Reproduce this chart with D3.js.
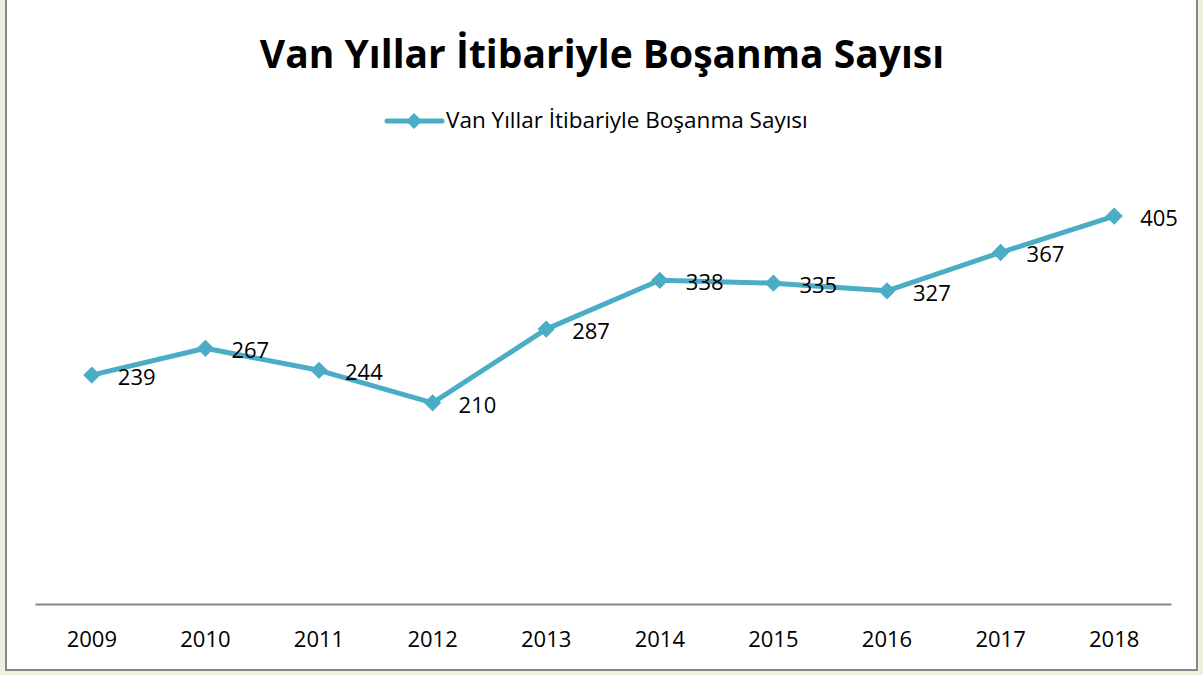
<!DOCTYPE html>
<html>
<style>
body { margin: 0; background: #ebf1de; }
text { font-family: "Open Sans", sans-serif; }
</style>
<body>
<script src="https://d3js.org/d3.v7.min.js"></script>
<script>
var years = ["2009", "2010", "2011", "2012", "2013", "2014", "2015", "2016", "2017", "2018"];
var counts = [239, 267, 244, 210, 287, 338, 335, 327, 367, 405];
var title = "Van Yıllar İtibariyle Boşanma Sayısı";

var width = 1203, height = 675;
var color = "#4bacc6";

var svg = d3.select("body")
  .append("svg")
  .attr("width", width)
  .attr("height", height);

// chart box
svg.append("rect")
  .attr("x", 6)
  .attr("y", -4)
  .attr("width", 1191)
  .attr("height", 674)
  .attr("fill", "white")
  .attr("stroke", "#878787")
  .attr("stroke-width", 2);

var x = d3.scaleBand()
  .domain(years)
  .range([35, 1171]);

var y = d3.scaleLinear()
  .domain([0, 450])
  .range([604, 173]);

svg.append("text")
  .attr("x", 602)
  .attr("y", 68)
  .attr("text-anchor", "middle")
  .attr("font-size", 39)
  .attr("font-weight", "bold")
  .text(title);

// legend
var lg = svg.append("g").attr("transform", "translate(387,121)");
lg.append("line")
  .attr("x1", 0).attr("x2", 55)
  .attr("stroke", color)
  .attr("stroke-width", 5)
  .attr("stroke-linecap", "round");
lg.append("path")
  .attr("d", d3.symbol(d3.symbolDiamond2, 160))
  .attr("transform", "translate(27,0)")
  .attr("fill", color);
lg.append("text")
  .attr("x", 59)
  .attr("y", 7)
  .attr("font-size", 22.5)
  .text(title);

// axis
var axis = svg.append("g")
  .attr("transform", "translate(0,604)")
  .call(d3.axisBottom(x).tickSize(0).tickPadding(27));
axis.select(".domain").attr("stroke", "#878787").attr("stroke-width", 2);
axis.selectAll("text")
  .attr("font-size", 22)
  .attr("fill", "black")
  .style("font-family", "'Open Sans', sans-serif");

var cx = function(d, i) { return x(years[i]) + x.bandwidth() / 2; };

var line = d3.line()
  .x(cx)
  .y(function(d) { return y(d); });

svg.append("path")
  .datum(counts)
  .attr("d", line)
  .attr("fill", "none")
  .attr("stroke", color)
  .attr("stroke-width", 5)
  .attr("stroke-linejoin", "round");

svg.selectAll(".pt")
  .data(counts)
  .enter()
  .append("path")
  .attr("class", "pt")
  .attr("d", d3.symbol(d3.symbolDiamond2, 190))
  .attr("transform", function(d, i) { return "translate(" + cx(d, i) + "," + y(d) + ")"; })
  .attr("fill", color);

svg.selectAll(".lbl")
  .data(counts)
  .enter()
  .append("text")
  .attr("class", "lbl")
  .attr("x", function(d, i) { return cx(d, i) + 26; })
  .attr("y", function(d) { return y(d) + 10; })
  .attr("font-size", 22)
  .text(function(d) { return d; });
</script>
</body>
</html>
